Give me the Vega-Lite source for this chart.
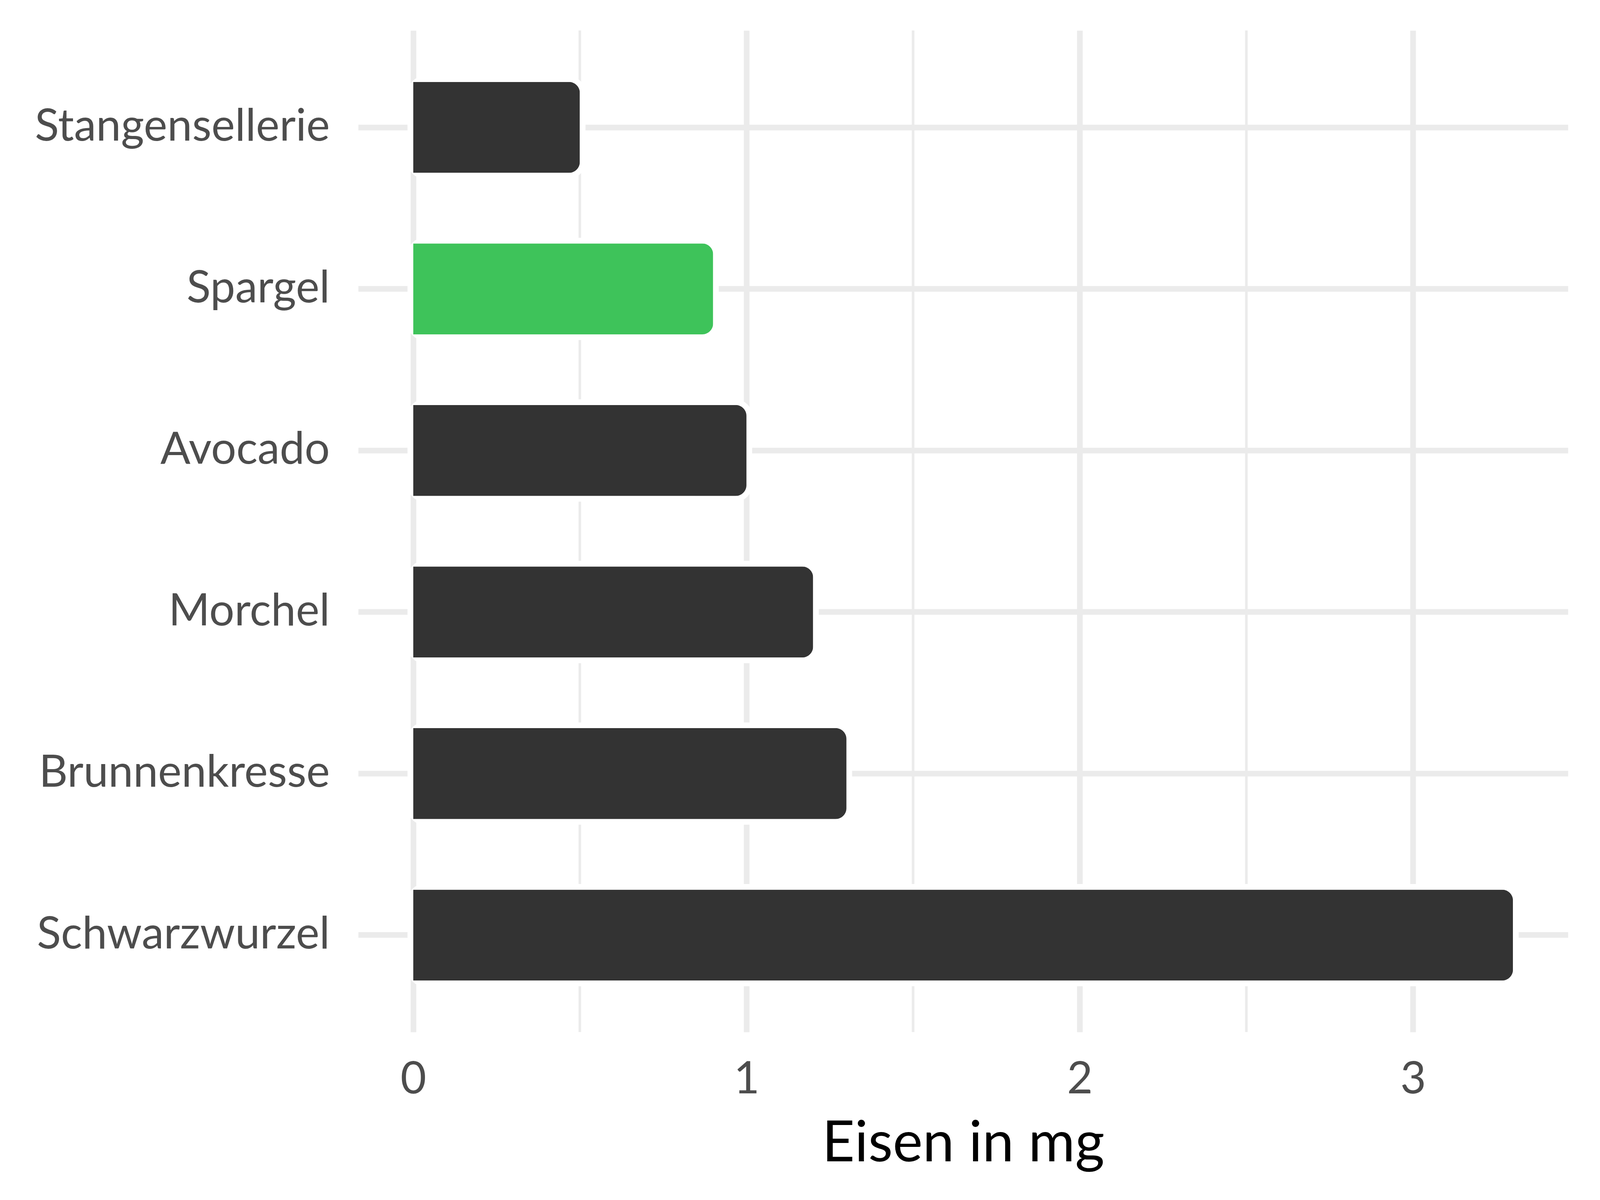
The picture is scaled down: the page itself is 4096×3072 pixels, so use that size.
{
  "$schema": "https://vega.github.io/schema/vega-lite/v6.json",
  "width": 3097,
  "height": 2564,
  "autosize": {"type": "none"},
  "padding": {"left": 917, "top": 78, "right": 82, "bottom": 430},
  "background": "white",
  "config": {
    "view": {"stroke": null},
    "font": "Lato"
  },
  "datasets": {
    "werte": [
      {"lebensmittel": "Stangensellerie", "eisen": 0.5},
      {"lebensmittel": "Spargel", "eisen": 0.9},
      {"lebensmittel": "Avocado", "eisen": 1.0},
      {"lebensmittel": "Morchel", "eisen": 1.2},
      {"lebensmittel": "Brunnenkresse", "eisen": 1.3},
      {"lebensmittel": "Schwarzwurzel", "eisen": 3.3}
    ],
    "nebenlinien": [
      {"x": 0.5}, {"x": 1.5}, {"x": 2.5}
    ]
  },
  "layer": [
    {
      "data": {"name": "nebenlinien"},
      "mark": {"type": "rule", "color": "#EBEBEB", "strokeWidth": 6.6},
      "encoding": {
        "x": {"field": "x", "type": "quantitative", "scale": {"domain": [-0.165, 3.465], "nice": false, "zero": false}}
      }
    },
    {
      "data": {"name": "werte"},
      "mark": {"type": "bar", "fill": "white", "stroke": "white", "strokeWidth": 29, "strokeJoin": "round", "cornerRadius": 28},
      "encoding": {
        "y": {"field": "lebensmittel", "type": "nominal",
              "sort": ["Stangensellerie", "Spargel", "Avocado", "Morchel", "Brunnenkresse", "Schwarzwurzel"],
              "scale": {"paddingInner": 0.437, "paddingOuter": 0.3185}},
        "x": {"field": "eisen", "type": "quantitative"}
      }
    },
    {
      "data": {"name": "werte"},
      "mark": {"type": "bar", "cornerRadiusEnd": 28},
      "encoding": {
        "y": {"field": "lebensmittel", "type": "nominal",
              "sort": ["Stangensellerie", "Spargel", "Avocado", "Morchel", "Brunnenkresse", "Schwarzwurzel"],
              "axis": {
                "title": null, "domain": false, "ticks": false,
                "grid": true, "gridColor": "#EBEBEB", "gridWidth": 14.5,
                "labelFont": "Lato", "labelFontSize": 114, "labelColor": "#4D4D4D",
                "labelPadding": 73, "labelLimit": 2000
              }},
        "x": {"field": "eisen", "type": "quantitative",
              "axis": {
                "title": "Eisen in mg", "values": [0, 1, 2, 3], "format": "d",
                "domain": false, "ticks": false,
                "grid": true, "gridColor": "#EBEBEB", "gridWidth": 14.5,
                "labelFont": "Lato", "labelFontSize": 114, "labelColor": "#4D4D4D",
                "labelPadding": 66,
                "titleFont": "Lato", "titleFontSize": 145, "titleFontWeight": "normal",
                "titleColor": "#000000", "titlePadding": 36
              }},
        "color": {
          "condition": {"test": "datum.lebensmittel === 'Spargel'", "value": "#3EC35A"},
          "value": "#333333"
        }
      }
    }
  ]
}
